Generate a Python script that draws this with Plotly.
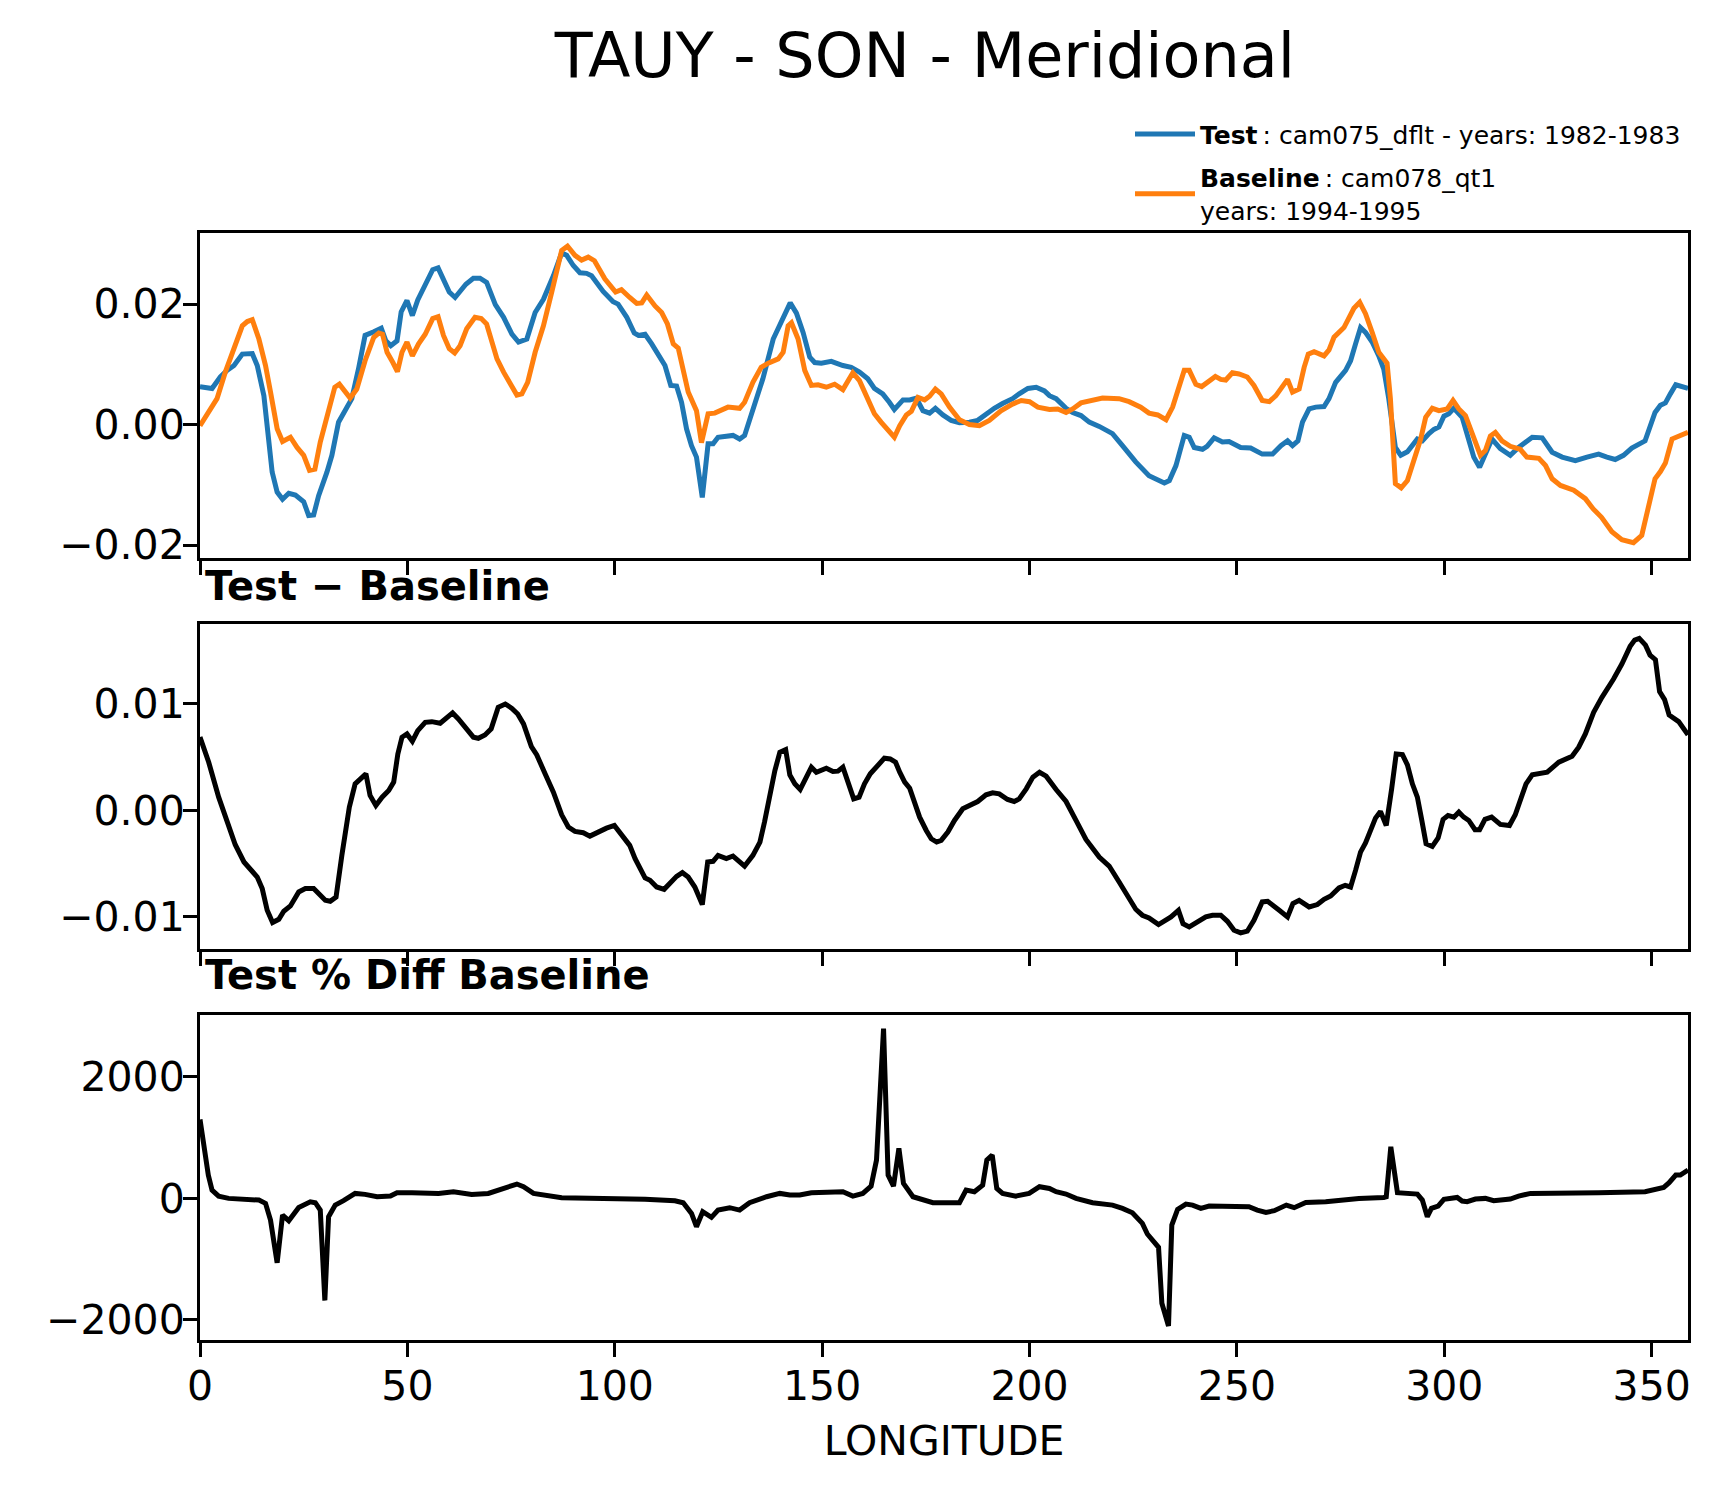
import plotly.graph_objects as go
from plotly.subplots import make_subplots

# ---- data ----
test_lon = [0, 2.9, 4.9, 6.5, 8.2, 10.2, 12.6, 13.8, 15.4, 17.4, 18.6, 19.9, 21.4, 23.0, 25.0,
            26.2, 27.4, 28.6, 30.6, 31.8, 33.4, 35.4, 36.6, 38.2, 39.8, 41.9, 43.7, 44.8, 46.0,
            47.5, 48.5, 49.9, 51.2, 52.5, 54.3, 56.1, 57.4, 58.7, 60.1, 61.5, 62.7, 64.1, 65.9,
            67.5, 69.1, 71.2, 73.2, 75.2, 76.8, 78.8, 80.8, 82.8, 85.2, 87.2, 88.4, 90.0, 91.6,
            93.2, 94.4, 97.2, 99.6, 100.8, 102.9, 104.7, 105.7, 107.3, 108.9, 110.1, 112.1,
            113.5, 114.9, 116.1, 117.3, 118.5, 119.7, 121.1, 122.5, 123.7, 124.9, 128.5, 130.1,
            131.3, 133.3, 135.7, 138.2, 140.6, 142.3, 143.8, 145.4, 147.0, 148.2, 149.8, 152.2,
            155.0, 157.0, 159.0, 161.0, 162.6, 164.6, 166.2, 167.4, 169.5, 171.1, 172.7, 174.3,
            175.9, 177.3, 179.1, 181.1, 183.1, 185.5, 187.5, 189.5, 191.5, 193.5, 195.9, 197.5,
            199.6, 201.6, 203.6, 204.8, 206.4, 208.8, 210.4, 212.4, 214.4, 216.8, 220.0, 222.4,
            225.6, 228.8, 232.5, 233.7, 235.3, 237.3, 238.5, 239.7, 241.7, 242.8, 244.5, 246.5,
            248.1, 250.9, 253.3, 256.1, 258.6, 260.6, 262.2, 263.4, 264.7, 265.8, 267.4, 269.0,
            271.0, 272.2, 273.8, 276.2, 277.4, 278.6, 279.8, 281.0, 282.6, 284.2, 285.4, 286.6,
            288.2, 289.5, 291.1, 293.5, 294.7, 296.3, 297.5, 298.7, 299.9, 301.1, 302.3, 304.3,
            305.9, 307.1, 308.5, 309.9, 311.5, 313.5, 315.9, 317.9, 319.6, 321.2, 323.6, 326.0,
            328.4, 331.6, 334.4, 337.2, 339.2, 341.2, 343.2, 345.2, 348.4, 349.6, 350.8, 352.1,
            353.3, 354.5, 355.8, 358.75]
test_tauy = [0.0063, 0.0060, 0.0079, 0.0090, 0.0098, 0.0117, 0.0118, 0.0098, 0.0048, -0.0079,
             -0.0112, -0.0124, -0.0114, -0.0117, -0.0128, -0.0151, -0.0150, -0.0118, -0.0079,
             -0.0051, 0.0004, 0.0029, 0.0043, 0.0092, 0.0148, 0.0154, 0.0160, 0.0139, 0.0131,
             0.0139, 0.0187, 0.0206, 0.0181, 0.0207, 0.0232, 0.0257, 0.0260, 0.0239, 0.0220,
             0.0211, 0.0220, 0.0233, 0.0243, 0.0243, 0.0236, 0.0199, 0.0178, 0.0150, 0.0137,
             0.0142, 0.0186, 0.0208, 0.0247, 0.0285, 0.0281, 0.0264, 0.0252, 0.0251, 0.0247,
             0.0221, 0.0204, 0.0200, 0.0178, 0.0152, 0.0148, 0.0150, 0.0134, 0.0120, 0.0098,
             0.0065, 0.0064, 0.0037, -0.0007, -0.0035, -0.0054, -0.0121, -0.0032, -0.0032,
             -0.0021, -0.0018, -0.0024, -0.0018, 0.0023, 0.0076, 0.0142, 0.0175, 0.0202, 0.0185,
             0.0153, 0.0112, 0.0103, 0.0102, 0.0105, 0.0098, 0.0095, 0.0087, 0.0076, 0.0060,
             0.0051, 0.0037, 0.0025, 0.0041, 0.0041, 0.0044, 0.0023, 0.0019, 0.0027, 0.0016,
             0.0007, 0.0003, 0.0004, 0.0007, 0.0018, 0.0027, 0.0035, 0.0043, 0.0051, 0.0060,
             0.0062, 0.0056, 0.0048, 0.0043, 0.0027, 0.0020, 0.0015, 0.0004, -0.0003, -0.0015,
             -0.0035, -0.0062, -0.0085, -0.0097, -0.0093, -0.0068, -0.0018, -0.0021, -0.0038,
             -0.0041, -0.0036, -0.0022, -0.0029, -0.0028, -0.0038, -0.0039, -0.0049, -0.0049,
             -0.0035, -0.0027, -0.0035, -0.0027, 0.0004, 0.0026, 0.0029, 0.0030, 0.0043, 0.0070,
             0.0090, 0.0106, 0.0134, 0.0161, 0.0153, 0.0137, 0.0114, 0.0092, 0.0043, -0.0038,
             -0.0051, -0.0045, -0.0024, -0.0027, -0.0015, -0.0008, -0.0004, 0.0014, 0.0018,
             0.0027, 0.0012, -0.0024, -0.0054, -0.0071, -0.0051, -0.0024, -0.0040, -0.0051,
             -0.0038, -0.0030, -0.0021, -0.0022, -0.0046, -0.0054, -0.0060, -0.0054, -0.0049,
             -0.0054, -0.0058, -0.0051, -0.0039, -0.0027, -0.0004, 0.0020, 0.0032, 0.0036,
             0.0051, 0.0066, 0.0060]

base_lon = [0, 2.1, 4.1, 6.1, 7.7, 10.2, 11.4, 12.6, 14.2, 15.8, 17.0, 18.6, 19.9, 21.8, 23.4,
            25.0, 26.4, 27.7, 29.0, 30.6, 32.5, 33.6, 35.0, 36.2, 37.8, 39.8, 41.9, 43.1, 44.0,
            45.1, 46.5, 47.6, 48.7, 49.9, 51.2, 52.7, 54.3, 56.1, 57.4, 58.7, 60.1, 61.4, 62.7,
            64.3, 66.3, 67.8, 69.1, 70.3, 71.6, 73.2, 74.8, 76.4, 77.6, 79.0, 80.8, 82.8, 84.8,
            87.2, 88.6, 90.4, 92.0, 93.6, 95.1, 97.6, 100.2, 101.6, 103.6, 105.3, 106.5, 107.7,
            109.7, 111.3, 112.7, 114.1, 115.3, 116.5, 117.7, 119.7, 120.9, 122.5, 124.1, 127.3,
            130.1, 131.3, 133.3, 135.3, 137.0, 139.4, 140.6, 141.8, 142.6, 144.2, 145.8, 147.4,
            149.0, 151.0, 153.0, 155.0, 157.4, 159.0, 160.6, 162.6, 164.2, 165.8, 167.4, 168.7,
            170.3, 171.5, 173.1, 174.7, 175.9, 177.3, 178.7, 180.7, 183.1, 185.5, 187.9, 190.3,
            193.1, 195.9, 198.0, 200.0, 202.0, 204.8, 206.8, 208.8, 210.4, 212.4, 214.8, 217.6,
            221.6, 224.0, 226.8, 228.8, 230.9, 232.9, 234.5, 236.1, 237.3, 238.5, 240.1, 241.5,
            243.5, 244.8, 246.1, 247.3, 248.9, 250.5, 252.5, 254.1, 256.1, 257.8, 259.4, 261.0,
            262.2, 263.4, 265.0, 266.2, 267.2, 268.6, 271.0, 272.2, 273.4, 275.8, 277.0, 278.2,
            279.6, 281.0, 282.6, 284.2, 286.2, 287.0, 288.2, 289.6, 291.1, 292.7, 294.3, 295.5,
            297.1, 298.7, 300.7, 302.1, 303.5, 305.1, 306.7, 308.7, 309.9, 311.1, 312.3, 313.9,
            315.9, 318.3, 319.9, 322.8, 324.4, 326.0, 328.0, 331.2, 334.0, 335.9, 337.9, 340.4,
            342.8, 345.6, 347.6, 349.2, 350.8, 352.1, 353.3, 354.9, 356.5, 358.75]
base_tauy = [-0.0002, 0.0023, 0.0043, 0.0087, 0.0117, 0.0164, 0.0171, 0.0174, 0.0142, 0.0098,
             0.0054, -0.0007, -0.0028, -0.0021, -0.0038, -0.0051, -0.0076, -0.0074, -0.0029,
             0.0015, 0.0062, 0.0067, 0.0054, 0.0044, 0.0059, 0.0106, 0.0145, 0.0152, 0.0150,
             0.0120, 0.0103, 0.0088, 0.0120, 0.0137, 0.0114, 0.0134, 0.0150, 0.0176, 0.0179,
             0.0148, 0.0126, 0.0119, 0.0131, 0.0159, 0.0178, 0.0176, 0.0167, 0.0142, 0.0109,
             0.0087, 0.0066, 0.0049, 0.0051, 0.0070, 0.0120, 0.0164, 0.0220, 0.0289, 0.0296,
             0.0281, 0.0273, 0.0278, 0.0272, 0.0242, 0.0220, 0.0224, 0.0211, 0.0201, 0.0202,
             0.0215, 0.0197, 0.0186, 0.0167, 0.0134, 0.0127, 0.0092, 0.0054, 0.0023, -0.0030,
             0.0018, 0.0019, 0.0029, 0.0027, 0.0037, 0.0070, 0.0095, 0.0102, 0.0109, 0.0120,
             0.0164, 0.0169, 0.0142, 0.0090, 0.0065, 0.0066, 0.0062, 0.0067, 0.0058, 0.0086,
             0.0073, 0.0048, 0.0018, 0.0004, -0.0008, -0.0021, -0.0002, 0.0016, 0.0022, 0.0045,
             0.0041, 0.0047, 0.0059, 0.0051, 0.0029, 0.0008, 0.0000, -0.0002, 0.0007, 0.0023,
             0.0034, 0.0040, 0.0038, 0.0029, 0.0025, 0.0026, 0.0020, 0.0026, 0.0036, 0.0040,
             0.0044, 0.0043, 0.0038, 0.0029, 0.0019, 0.0016, 0.0008, 0.0029, 0.0067, 0.0090,
             0.0090, 0.0067, 0.0063, 0.0074, 0.0080, 0.0075, 0.0074, 0.0086, 0.0084, 0.0079,
             0.0065, 0.0040, 0.0038, 0.0048, 0.0062, 0.0075, 0.0054, 0.0059, 0.0095, 0.0117,
             0.0121, 0.0114, 0.0124, 0.0145, 0.0161, 0.0176, 0.0193, 0.0203, 0.0184, 0.0153,
             0.0120, 0.0102, 0.0043, -0.0098, -0.0105, -0.0093, -0.0057, -0.0024, 0.0012,
             0.0027, 0.0023, 0.0026, 0.0040, 0.0026, 0.0015, -0.0015, -0.0051, -0.0043, -0.0019,
             -0.0013, -0.0027, -0.0036, -0.0041, -0.0054, -0.0056, -0.0068, -0.0090, -0.0101,
             -0.0109, -0.0123, -0.0140, -0.0154, -0.0178, -0.0191, -0.0196, -0.0184, -0.0140,
             -0.0090, -0.0078, -0.0064, -0.0024, -0.0019, -0.0013]

diff_lon = [0, 2.1, 4.5, 6.5, 8.5, 10.6, 12.2, 13.8, 15.0, 16.2, 17.5, 19.0, 20.2, 21.8, 23.8,
            25.4, 27.4, 28.6, 30.2, 31.4, 32.8, 34.2, 36.0, 37.4, 38.8, 40.0, 41.0, 42.4, 43.9,
            45.5, 46.7, 47.7, 48.7, 49.9, 51.2, 52.5, 54.3, 55.9, 57.9, 59.3, 60.9, 62.3, 64.1,
            65.9, 67.1, 68.7, 70.2, 71.9, 73.6, 75.2, 76.6, 78.0, 79.9, 81.2, 83.2, 85.2, 87.2,
            88.8, 90.4, 92.4, 94.0, 96.0, 98.0, 99.9, 101.6, 103.6, 104.9, 107.3, 108.5, 110.1,
            111.9, 113.3, 114.9, 116.3, 117.7, 119.3, 121.1, 122.4, 123.7, 124.9, 126.9, 128.5,
            130.0, 131.3, 133.3, 135.0, 136.1, 137.4, 138.6, 139.8, 141.2, 142.2, 143.4, 144.7,
            146.2, 147.4, 148.6, 151.0, 152.6, 153.8, 155.0, 156.5, 157.6, 158.9, 160.2, 161.6,
            163.4, 165.0, 166.4, 167.7, 168.7, 169.9, 171.1, 172.3, 173.5, 175.1, 176.3, 177.6,
            178.7, 180.3, 181.9, 183.9, 185.9, 187.5, 189.5, 191.1, 192.7, 194.7, 196.3, 197.5,
            199.2, 200.8, 202.4, 204.0, 206.4, 208.8, 211.2, 213.6, 216.8, 219.2, 221.6, 223.6,
            225.6, 227.2, 228.8, 231.1, 232.5, 234.1, 235.9, 237.0, 238.5, 240.5, 242.5, 244.1,
            246.1, 247.7, 249.3, 250.9, 252.5, 254.1, 256.1, 257.4, 258.6, 260.2, 262.2, 263.5,
            265.0, 267.4, 269.4, 271.0, 272.6, 274.6, 276.1, 277.4, 278.6, 279.8, 281.0, 282.2,
            283.4, 284.6, 286.0, 287.3, 288.4, 289.9, 291.1, 292.3, 293.5, 294.5, 295.6, 297.1,
            298.5, 299.7, 300.9, 302.3, 303.5, 304.7, 305.9, 307.4, 308.5, 309.8, 311.4, 313.5,
            315.7, 317.1, 318.4, 319.7, 321.2, 324.8, 327.6, 328.8, 330.8, 332.4, 334.0, 336.0,
            338.0, 340.8, 342.8, 344.8, 345.9, 347.0, 348.5, 349.6, 350.9, 351.9, 353.1, 354.2,
            356.5, 358.75]
diff_vals = [0.0069, 0.00453, 0.00125, -0.00094, -0.00322, -0.00484, -0.00547, -0.00625,
             -0.00734, -0.00938, -0.01053, -0.01022, -0.00947, -0.00897, -0.00766, -0.00734,
             -0.00734, -0.00781, -0.00844, -0.00853, -0.00813, -0.00422, 0.00031, 0.0025,
             0.00303, 0.00344, 0.00141, 0.00047, 0.00125, 0.00188, 0.00266, 0.00531, 0.00688,
             0.00719, 0.0065, 0.0075, 0.00828, 0.00834, 0.00819, 0.00866, 0.00916, 0.00859,
             0.00781, 0.00688, 0.00678, 0.00709, 0.00766, 0.00969, 0.0100, 0.00959, 0.00906,
             0.00813, 0.0060, 0.00522, 0.00344, 0.00172, -0.00041, -0.00156, -0.00197, -0.00209,
             -0.00241, -0.00197, -0.00166, -0.00141, -0.00234, -0.00328, -0.00453, -0.00634,
             -0.00656, -0.00719, -0.00741, -0.00688, -0.00619, -0.00584, -0.00625, -0.00719,
             -0.00884, -0.00484, -0.00478, -0.00422, -0.00453, -0.00428, -0.00484, -0.00522,
             -0.00422, -0.00297, -0.00109, 0.00156, 0.00375, 0.00547, 0.00572, 0.00334, 0.0025,
             0.00197, 0.00313, 0.00406, 0.00359, 0.00397, 0.00366, 0.00369, 0.00406, 0.00234,
             0.00109, 0.00125, 0.0025, 0.00344, 0.00416, 0.00491, 0.00484, 0.00453, 0.00359,
             0.00266, 0.00209, 0.00063, -0.00063, -0.00188, -0.00266, -0.00297, -0.00281,
             -0.00203, -0.00094, 0.00016, 0.00053, 0.00084, 0.00147, 0.00166, 0.00156, 0.00103,
             0.00084, 0.00109, 0.00203, 0.00313, 0.00359, 0.00322, 0.00197, 0.00084, -0.00094,
             -0.00272, -0.00438, -0.00522, -0.00672, -0.00797, -0.00928, -0.00984, -0.01009,
             -0.01072, -0.01041, -0.0100, -0.00938, -0.01063, -0.01094, -0.01047, -0.0100,
             -0.00984, -0.00984, -0.01041, -0.01125, -0.0115, -0.01134, -0.01031, -0.00859,
             -0.00853, -0.00884, -0.00938, -0.0100, -0.00875, -0.00844, -0.00906, -0.00884,
             -0.00834, -0.00803, -0.00728, -0.00703, -0.00719, -0.00563, -0.00391, -0.00306,
             -0.00172, -0.00072, -0.00009, -0.00141, 0.00203, 0.00531, 0.00525, 0.00428, 0.0025,
             0.00125, -0.00078, -0.00313, -0.00338, -0.00259, -0.00084, -0.00047, -0.00063,
             -0.00016, -0.00063, -0.00094, -0.00181, -0.00181, -0.00084, -0.00063, -0.00131,
             -0.00141, -0.00041, 0.00094, 0.0025, 0.00334, 0.00359, 0.00453, 0.00478, 0.00509,
             0.00594, 0.00719, 0.00922, 0.01063, 0.01234, 0.01375, 0.01541, 0.0160, 0.01616,
             0.01553, 0.01459, 0.01416, 0.01116, 0.01041, 0.00897, 0.00834, 0.0071]

pct_lon = [0, 1.3, 2.0, 2.9, 4.5, 6.9, 11.0, 14.2, 15.8, 17.0, 18.6, 19.9, 21.4, 23.8, 26.6,
           27.8, 29.0, 30.1, 31.0, 32.6, 34.6, 37.4, 39.8, 42.7, 45.9, 47.5, 51.1, 57.5, 61.1,
           65.5, 69.5, 72.8, 76.4, 78.0, 80.4, 87.2, 100.0, 107.3, 114.5, 116.5, 118.5, 119.7,
           121.2, 123.3, 124.9, 127.7, 130.1, 132.5, 136.6, 139.8, 142.2, 144.6, 147.4, 155.0,
           157.4, 159.8, 161.8, 163.1, 164.8, 165.9, 167.2, 168.5, 169.6, 171.9, 176.7, 183.1,
           184.7, 186.7, 188.7, 189.7, 191.0, 192.1, 193.5, 196.7, 199.9, 202.4, 204.8, 206.4,
           208.8, 211.2, 215.2, 220.0, 222.4, 224.8, 227.2, 228.4, 231.1, 231.9, 233.5, 234.3,
           235.7, 237.7, 239.3, 241.3, 243.3, 245.5, 247.3, 252.9, 254.9, 257.0, 259.0, 261.9,
           263.8, 266.6, 271.4, 274.6, 279.4, 285.4, 286.0, 287.1, 288.7, 293.5, 294.7, 295.9,
           296.9, 298.5, 299.9, 303.1, 304.3, 305.5, 307.5, 309.9, 311.9, 315.9, 317.9, 320.8,
           325.2, 337.2, 348.4, 352.9, 354.2, 355.8, 356.9, 358.75]
pct_vals = [1300, 650, 384, 137, 38, 0, -16, -27, -82, -356, -1060, -274, -367, -148, -55,
            -71, -192, -1680, -301, -110, -38, 82, 66, 27, 38, 93, 93, 82, 110,
            66, 82, 148, 236, 192, 82, 11, 0, -16, -38, -71, -247, -466,
            -219, -312, -192, -153, -192, -71, 27, 82, 55, 55, 93, 110,
            38, 82, 203, 630, 2794, 384, 203, 822, 247, 27, -71, -71,
            137, 110, 219, 630, 712, 164, 82, 38, 82, 192, 164, 110,
            71, 0, -71, -110, -164, -236, -411, -586, -805, -1726, -2099, -438,
            -181, -93, -110, -164, -126, -126, -126, -137, -192, -230, -203, -110,
            -153, -66, -55, -27, 0, 16, 27, 849, 93, 71, -27, -301,
            -164, -126, -16, 16, -44, -55, -11, 0, -38, -11, 38, 82,
            82, 93, 110, 181, 258, 384, 384, 466]

FONT = "DejaVu Sans"
BLUE = "#1f77b4"
ORANGE = "#ff7f0e"

fig = make_subplots(rows=3, cols=1, shared_xaxes=True, vertical_spacing=0.06)

fig.add_trace(go.Scatter(x=test_lon, y=test_tauy, mode="lines",
                         line=dict(color=BLUE, width=5), legendgroup="test",
                         name="<b>Test</b>\u2009: cam075_dflt - years: 1982-1983"), row=1, col=1)
fig.add_trace(go.Scatter(x=base_lon, y=base_tauy, mode="lines",
                         line=dict(color=ORANGE, width=5), legendgroup="base",
                         name="<b>Baseline</b>\u2009: cam078_qt1<br>years: 1994-1995"), row=1, col=1)
fig.add_trace(go.Scatter(x=diff_lon, y=diff_vals, mode="lines",
                         line=dict(color="black", width=5), showlegend=False), row=2, col=1)
fig.add_trace(go.Scatter(x=pct_lon, y=pct_vals, mode="lines",
                         line=dict(color="black", width=5), showlegend=False), row=3, col=1)

axis_style = dict(showline=True, linecolor="black", linewidth=3, mirror=True,
                  ticks="outside", ticklen=14, tickwidth=3, tickcolor="black",
                  showgrid=False, zeroline=False,
                  tickfont=dict(family=FONT, size=41, color="black"))

for r in (1, 2, 3):
    fig.update_xaxes(range=[0, 358.75], dtick=50, tick0=0, ticklabelstandoff=-6,
                     row=r, col=1, **axis_style)
fig.update_xaxes(showticklabels=False, row=1, col=1)
fig.update_xaxes(showticklabels=False, row=2, col=1)
fig.update_xaxes(title=dict(text="LONGITUDE", font=dict(family=FONT, size=41, color="black"),
                            standoff=18), row=3, col=1)

fig.update_yaxes(range=[-0.0221, 0.0318], tickvals=[-0.02, 0, 0.02], tickformat=".2f",
                 ticklabelstandoff=-10, row=1, col=1, **axis_style)
fig.update_yaxes(range=[-0.0130, 0.0175], tickvals=[-0.01, 0, 0.01], tickformat=".2f",
                 ticklabelstandoff=-10, row=2, col=1, **axis_style)
fig.update_yaxes(range=[-2330, 3013], tickvals=[-2000, 0, 2000], tickformat="d",
                 ticklabelstandoff=-10, row=3, col=1, **axis_style)

# panel captions
for text, ypos in [("<b>Test − Baseline</b>", 0.6815), ("<b>Test % Diff Baseline</b>", 0.3293)]:
    fig.add_annotation(text=text, xref="paper", yref="paper", x=0, y=ypos,
                       xanchor="left", yanchor="middle", showarrow=False, xshift=3,
                       font=dict(family=FONT, size=40, color="black"))

fig.update_layout(
    width=1721, height=1496,
    margin=dict(l=192, r=41, t=225, b=164),
    paper_bgcolor="white", plot_bgcolor="white",
    title=dict(text="TAUY - SON - Meridional", x=0.5328, xanchor="center",
               y=1 - 47 / 1496, yanchor="middle",
               font=dict(family=FONT, size=62, color="black")),
    legend=dict(x=0.625, xanchor="left", y=1.110, yanchor="top", itemwidth=60,
                font=dict(family=FONT, size=25, color="black"),
                bgcolor="rgba(0,0,0,0)", tracegroupgap=8),
    font=dict(family=FONT, color="black"),
)

fig.write_html("out.html")
